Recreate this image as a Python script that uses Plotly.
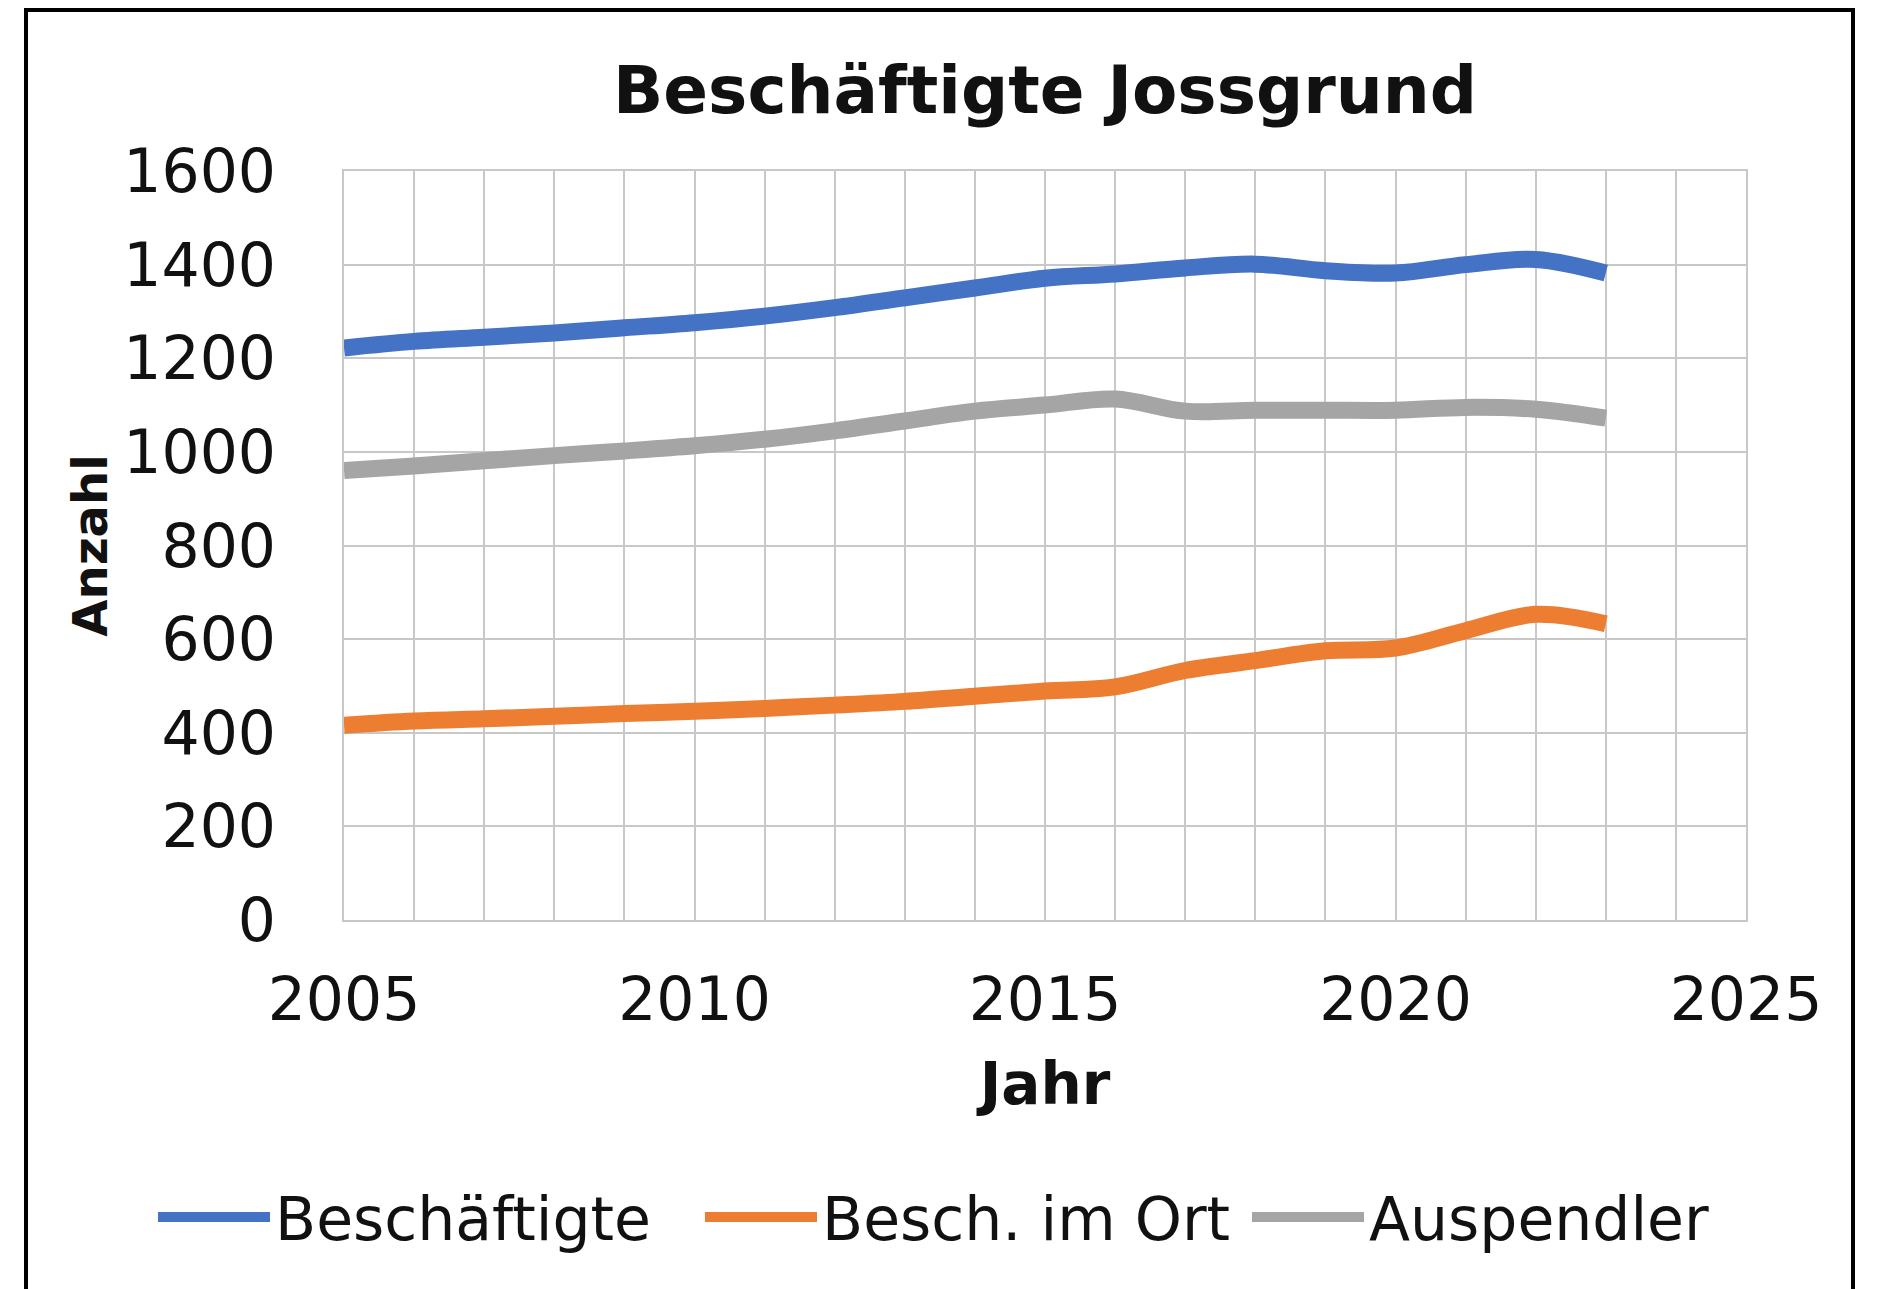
import plotly.graph_objects as go

years = list(range(2005, 2024))
beschaeftigte = [1222, 1236, 1245, 1254, 1265, 1276, 1290, 1308, 1329, 1350, 1371, 1380,
                 1393, 1401, 1387, 1382, 1400, 1411, 1382]
besch_im_ort = [416, 425, 430, 435, 441, 446, 452, 459, 467, 478, 489, 498,
                533, 554, 575, 581, 618, 653, 633]
auspendler = [960, 970, 981, 992, 1002, 1013, 1027, 1045, 1066, 1087, 1100, 1113,
              1087, 1089, 1089, 1089, 1095, 1091, 1072]

series_names = ["Beschäftigte", "Besch. im Ort", "Auspendler"]
series_vals = [beschaeftigte, besch_im_ort, auspendler]
colors = ["#4472C4", "#ED7D31", "#A5A5A5"]

OFF = 8  # default page body margin
W, H = 1884 - 2 * OFF, 1289
# plot area in page pixels
L, R, T, B = 344, 1746, 171, 920

def px(x):
    return (x - L) / (R - L)

def py(y):
    return (B - y) / (B - T)

def cy(y):
    return 1 - (y - OFF) / H

fig = go.Figure()
for name, vals, c in zip(series_names, series_vals, colors):
    fig.add_trace(go.Scatter(x=years, y=vals, name=name, mode="lines",
                             line=dict(color=c, width=17, shape="spline", smoothing=1.0)))

grid = "#C8C8C8"
txt = "#111111"
tickfont = dict(family="DejaVu Sans", size=60, color=txt)

fig.update_layout(
    width=W, height=H,
    margin=dict(l=L - OFF, r=W - (R - OFF), t=T - OFF, b=H - (B - OFF), autoexpand=False),
    paper_bgcolor="white", plot_bgcolor="white",
    title=dict(text="<b>Beschäftigte Jossgrund</b>", xref="paper", x=0.5, xanchor="center",
               y=cy(90), yanchor="middle",
               font=dict(family="DejaVu Sans", size=66, color=txt)),
    xaxis=dict(range=[2005, 2025], dtick=5, tick0=2005, showgrid=True, gridcolor=grid, gridwidth=2,
               minor=dict(dtick=1, showgrid=True, gridcolor=grid, gridwidth=2),
               showline=True, linecolor=grid, linewidth=2, mirror=True, zeroline=False,
               tickfont=tickfont, ticklabelstandoff=26,
               title=dict(text="<b>Jahr</b>", font=dict(family="DejaVu Sans", size=58, color=txt),
                          standoff=30)),
    yaxis=dict(range=[0, 1600], dtick=200, showgrid=True, gridcolor=grid, gridwidth=2,
               showline=True, linecolor=grid, linewidth=2, mirror=True, zeroline=False,
               tickfont=tickfont, ticklabelstandoff=54,
               title=dict(text="<b>Anzahl</b>", font=dict(family="DejaVu Sans", size=48, color=txt),
                          standoff=0)),
    legend=dict(orientation="h", xref="paper", yref="paper",
                x=px(160 - 7), xanchor="left", y=py(1217), yanchor="middle",
                font=dict(family="DejaVu Sans", size=60, color=txt),
                itemwidth=112, entrywidth=420, traceorder="normal"),
    shapes=[dict(type="rect", xref="paper", yref="paper",
                 x0=px(26), x1=px(1853), y0=py(10), y1=py(1320),
                 line=dict(color="black", width=4), fillcolor="rgba(0,0,0,0)", layer="below")],
)

fig.write_html("out.html")
